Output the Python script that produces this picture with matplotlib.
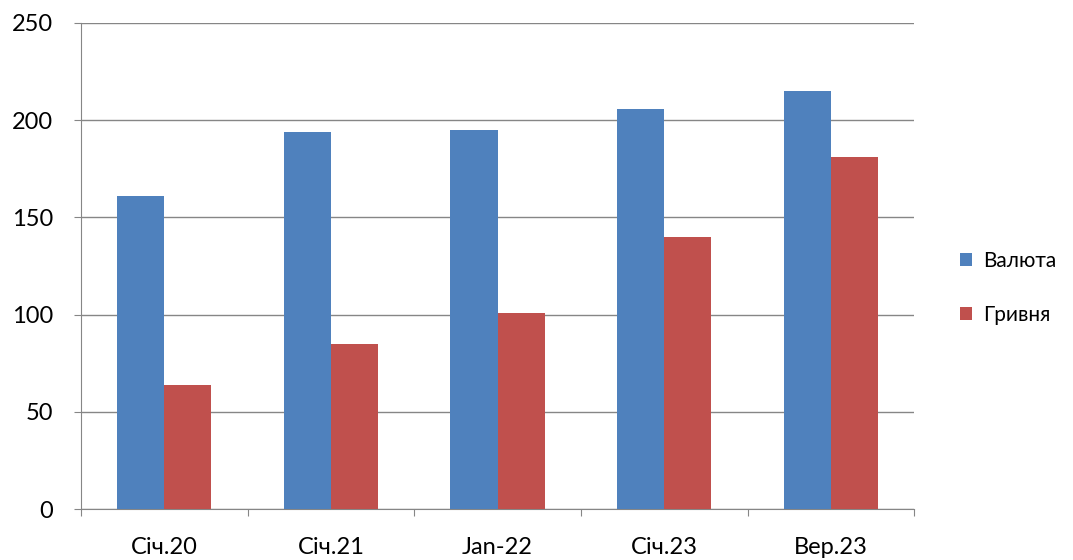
import matplotlib.pyplot as plt
import numpy as np

plt.rcParams['font.family'] = ['Lato', 'DejaVu Sans']

categories = ['Січ.20', 'Січ.21', 'Jan-22', 'Січ.23', 'Вер.23']
valuta = [161, 194, 195, 206, 215]
hryvnia = [64, 85, 101, 140, 181]

blue = '#4F81BD'
red = '#C0504D'
axis_col = '#868686'

fig = plt.figure(figsize=(10.73, 5.6), dpi=100)
ax = fig.add_axes([0.0755, 0.091, 0.7765, 0.868])

x = np.arange(len(categories))
w = 0.283
ax.bar(x - w/2, valuta, w, color=blue, label='Валюта', zorder=3)
ax.bar(x + w/2, hryvnia, w, color=red, label='Гривня', zorder=3)

ax.set_xlim(-0.5, len(categories) - 0.5)
ax.set_ylim(0, 250)
ax.set_yticks(range(0, 251, 50))
ax.yaxis.grid(True, color=axis_col, linewidth=1, zorder=0)

# category ticks sit between groups, labels centered under groups
ax.set_xticks(np.arange(-0.5, len(categories)), minor=False)
ax.set_xticklabels([])
ax.set_xticks(x, minor=True)
ax.set_xticklabels(categories, minor=True)
ax.tick_params(axis='x', which='minor', length=0, pad=20, labelsize=17)
ax.tick_params(axis='x', which='major', length=5, color=axis_col)
ax.tick_params(axis='y', length=5, color=axis_col, labelsize=17, pad=15)

for s in ['top', 'right']:
    ax.spines[s].set_visible(False)
for s in ['left', 'bottom']:
    ax.spines[s].set_color(axis_col)

leg = fig.legend(loc='center left', bbox_to_anchor=(0.877, 0.486), frameon=False,
                 fontsize=15, handlelength=0.6, handleheight=0.6,
                 labelspacing=1.6, handletextpad=0.5)

fig.savefig('out.png', dpi=100)
